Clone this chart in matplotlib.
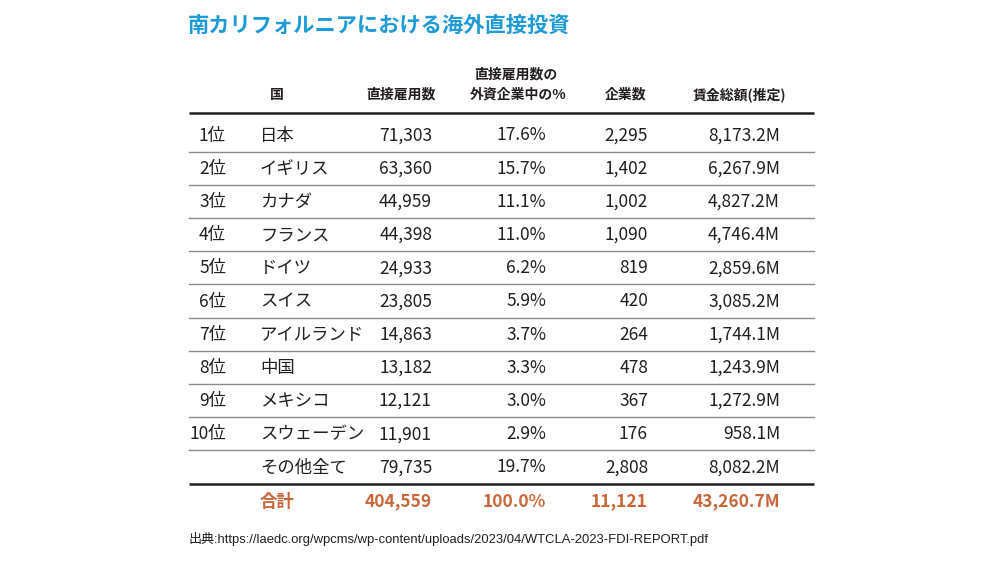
import matplotlib.pyplot as plt
from matplotlib import font_manager

plt.rcParams['font.family'] = ['Noto Sans CJK JP', 'DejaVu Sans']

title = "南カリフォルニアにおける海外直接投資"
headers = ["国", "直接雇用数", "直接雇用数の\n外資企業中の%", "企業数", "賃金総額(推定)"]
ranks = ["1位", "2位", "3位", "4位", "5位", "6位", "7位", "8位", "9位", "10位", ""]
countries = ["日本", "イギリス", "カナダ", "フランス", "ドイツ", "スイス",
             "アイルランド", "中国", "メキシコ", "スウェーデン", "その他全て"]
employment = [71303, 63360, 44959, 44398, 24933, 23805, 14863, 13182, 12121, 11901, 79735]
share = [17.6, 15.7, 11.1, 11.0, 6.2, 5.9, 3.7, 3.3, 3.0, 2.9, 19.7]
firms = [2295, 1402, 1002, 1090, 819, 420, 264, 478, 367, 176, 2808]
wages = [8173.2, 6267.9, 4827.2, 4746.4, 2859.6, 3085.2, 1744.1, 1243.9, 1272.9, 958.1, 8082.2]
total_label = "合計"
total_employment = 404559
total_share = 100.0
total_firms = 11121
total_wages = 43260.7
source = "出典:https://laedc.org/wpcms/wp-content/uploads/2023/04/WTCLA-2023-FDI-REPORT.pdf"

blue = "#1e9bd7"
orange = "#c8673a"
ink = "#231f20"

fig = plt.figure(figsize=(10, 5.62), dpi=100)
ax = fig.add_axes([0, 0, 1, 1])
ax.set_xlim(0, 1000)
ax.set_ylim(562, 0)
ax.axis("off")

# column positions in pixels
x_left, x_right = 189, 814
x_rank = 226
x_country = 260
x_emp = 432
x_share = 546
x_firms = 648
x_wages = 780
hdr_x = [277, 401, 518, 626, 740]

ax.text(188, 23, title, color=blue, fontsize=15.3, fontweight="bold", va="center_baseline", ha="left")

for hx, h in zip(hdr_x, headers):
    if "\n" in h:
        l1, l2 = h.split("\n")
        ax.text(hx - 2, 73, l1, fontsize=10, fontweight="bold", color=ink, ha="center", va="center_baseline")
        ax.text(hx, 93, l2, fontsize=10, fontweight="bold", color=ink, ha="center", va="center_baseline")
    else:
        ax.text(hx, 93, h, fontsize=10, fontweight="bold", color=ink, ha="center", va="center_baseline")

ax.plot([x_left, x_right], [113, 113], color=ink, lw=1.8, solid_capstyle="butt")

row_h = 33.2
y0 = 133.5
fs = 12.5
kw = dict(fontsize=fs, color=ink, va="center_baseline")
for i in range(len(countries)):
    y = y0 + i * row_h
    ax.text(x_rank, y, ranks[i], ha="right", **kw)
    ax.text(x_country, y, countries[i], ha="left", **kw)
    ax.text(x_emp, y, f"{employment[i]:,}", ha="right", **kw)
    ax.text(x_share, y, f"{share[i]:.1f}%", ha="right", **kw)
    ax.text(x_firms, y, f"{firms[i]:,}", ha="right", **kw)
    ax.text(x_wages, y, f"{wages[i]:,.1f}M", ha="right", **kw)
    if i < len(countries) - 1:
        ly = y + 1.5 + row_h / 2
        ax.plot([x_left, x_right], [ly, ly], color="#8a8a8a", lw=1.0)

ly = y0 + 1.5 + (len(countries) - 0.5) * row_h
ax.plot([x_left, x_right], [ly, ly], color=ink, lw=1.8, solid_capstyle="butt")

yt = y0 + len(countries) * row_h + 1
tkw = dict(fontsize=fs, color=orange, fontweight="bold", va="center_baseline")
ax.text(x_country, yt, total_label, ha="left", **tkw)
ax.text(x_emp, yt, f"{total_employment:,}", ha="right", **tkw)
ax.text(x_share, yt, f"{total_share:.1f}%", ha="right", **tkw)
ax.text(x_firms, yt, f"{total_firms:,}", ha="right", **tkw)
ax.text(x_wages, yt, f"{total_wages:,.1f}M", ha="right", **tkw)

names = {f.name for f in font_manager.fontManager.ttflist}
src_fam = ["Liberation Sans Narrow", "Noto Sans CJK JP"] if "Liberation Sans Narrow" in names else ["Liberation Sans", "Noto Sans CJK JP"]
ax.text(188, 537, source, fontsize=9.4, color=ink, family=src_fam, ha="left", va="center_baseline")

fig.savefig("out.png", dpi=100)
